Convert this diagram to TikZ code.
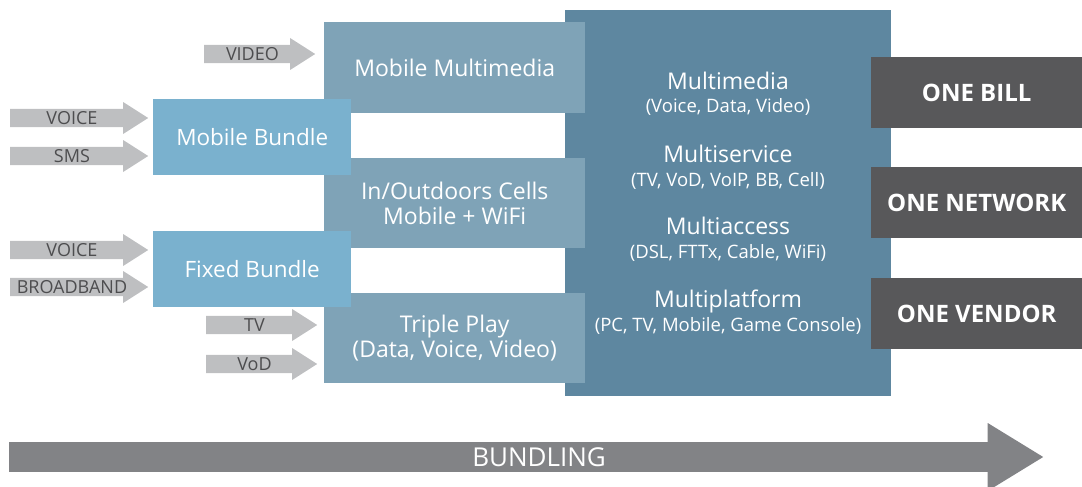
\documentclass[tikz,border=0pt]{standalone}
\usepackage{fontspec}
\setmainfont{Open Sans}
\usepackage{tikz}
\usetikzlibrary{positioning,shapes.arrows}
\definecolor{feedgray}{RGB}{190,191,193}
\definecolor{feedtext}{RGB}{77,77,79}
\definecolor{bundleblue}{RGB}{122,177,206}
\definecolor{layerblue}{RGB}{127,163,183}
\definecolor{coreblue}{RGB}{94,135,160}
\definecolor{onegray}{RGB}{88,88,90}
\definecolor{trendgray}{RGB}{130,131,134}

\begin{document}
\begin{tikzpicture}[x=1pt, y=-1pt,
    feed/.style={single arrow, fill=feedgray, inner sep=0pt, minimum width=32pt, single arrow head extend=5pt, single arrow tip angle=65, text=feedtext, font=\fontsize{18}{18}\selectfont, anchor=tail},
    layer/.style={fill=layerblue, text=white, inner sep=0pt, align=center, minimum width=261pt, minimum height=90pt, anchor=north west, font=\fontsize{23}{25}\selectfont},
    bundle/.style={fill=bundleblue, text=white, inner sep=0pt, minimum width=198pt, minimum height=76pt, anchor=north west, font=\fontsize{22.5}{24}\selectfont},
    one/.style={fill=onegray, text=white, inner sep=0pt, minimum width=211pt, minimum height=71pt, anchor=north west, font=\fontsize{24}{24}\selectfont\bfseries},
    svc/.style={text=white, inner sep=0pt, anchor=base, font=\fontsize{23}{23}\selectfont},
    svcsub/.style={text=white, inner sep=0pt, anchor=base, font=\fontsize{18.5}{18.5}\selectfont}]
  \useasboundingbox (0,0) rectangle (1082,487);

  % the core block and what it offers
  \node[fill=coreblue, inner sep=0pt, minimum width=326pt, minimum height=386pt, anchor=north west] (core) at (565,10) {};
  \node[svc] (mmedia) at (728,89) {Multimedia};
  \node[svcsub] (mmediasub) at (728,113) {(Voice, Data, Video)};
  \node[svc] (mservice) at (728,162) {Multiservice};
  \node[svcsub] (mservicesub) at (728,186) {(TV, VoD, VoIP, BB, Cell)};
  \node[svc] (maccess) at (728,234) {Multiaccess};
  \node[svcsub] (maccesssub) at (728,258) {(DSL, FTTx, Cable, WiFi)};
  \node[svc] (mplatform) at (728,307) {Multiplatform};
  \node[svcsub] (mplatformsub) at (728,331) {(PC, TV, Mobile, Game Console)};

  % service layers
  \node[layer, minimum height=91pt] (mobmm) at (324,22) {Mobile Multimedia};
  \node[layer] (cells) at (324,158) {In/Outdoors Cells\\Mobile + WiFi};
  \node[layer] (triple) at (324,293) {Triple Play\\(Data, Voice, Video)};

  % bundles
  \node[bundle] (mobile) at (153,99) {Mobile Bundle};
  \node[bundle] (fixed) at (153,231) {Fixed Bundle};

  % the three ONEs
  \node[one] (bill) at (871,57) {ONE BILL};
  \node[one] (network) at (871,167) {ONE NETWORK};
  \node[one] (vendor) at (871,278) {ONE VENDOR};

  % inputs
  \node[feed, minimum height=111pt] (video) at (204,54) {VIDEO};
  \node[feed, minimum height=138pt] (mvoice) at (10,118) {VOICE};
  \node[feed, minimum height=138pt] (sms) at (10,156) {SMS};
  \node[feed, minimum height=138pt] (fvoice) at (10,250) {VOICE};
  \node[feed, minimum height=138pt] (broadband) at (10,287) {BROADBAND};
  \node[feed, minimum height=111pt] (tv) at (206,325) {TV};
  \node[feed, minimum height=111pt] (vod) at (206,364) {VoD};

  % trend
  \node[single arrow, fill=trendgray, inner sep=0pt, minimum width=68pt, single arrow head extend=12.5pt, single arrow tip angle=63, minimum height=1034pt, anchor=tail, text=white, font=\fontsize{26}{26}\selectfont] (bundling) at (9,457) {\hspace*{50pt}BUNDLING};
\end{tikzpicture}
\end{document}
